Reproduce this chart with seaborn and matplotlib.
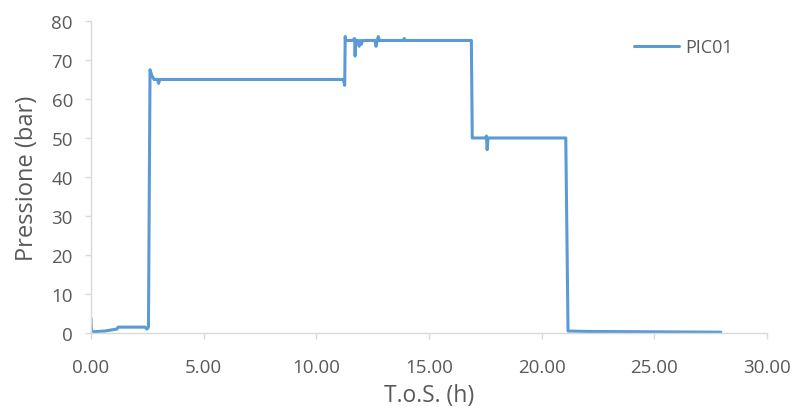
import matplotlib
matplotlib.use("Agg")
import matplotlib.pyplot as plt
import seaborn as sns
import pandas as pd

# Time on stream (h) and pressure (bar)
tos_h = [0.00, 0.02, 0.06, 0.60, 1.15, 1.20, 2.40, 2.48, 2.55, 2.62, 2.70, 2.80, 2.95, 3.00, 3.05,
         11.20, 11.26, 11.28, 11.30, 11.60, 11.70, 11.72, 11.75, 11.85, 11.90, 11.95, 12.00, 12.05,
         12.10, 12.60, 12.65, 12.70, 12.75, 12.80, 12.85, 13.85, 13.90, 13.95, 16.88, 16.92, 16.96,
         17.50, 17.55, 17.58, 17.62, 21.07, 21.17, 22.00, 25.00, 27.95]
pressure_bar = [3.8, 0.5, 0.3, 0.5, 1.0, 1.5, 1.5, 1.0, 1.5, 67.5, 66.0, 65.0, 65.0, 64.0, 65.0,
                65.0, 63.5, 76.0, 75.0, 75.0, 75.5, 71.0, 75.0, 75.0, 73.5, 75.0, 74.0, 75.0,
                75.0, 75.0, 73.5, 75.0, 76.0, 75.0, 75.0, 75.0, 75.5, 75.0, 75.0, 50.0, 50.0,
                50.0, 50.5, 47.0, 50.0, 50.0, 0.5, 0.4, 0.3, 0.2]
series_name = "PIC01"
x_ticks = [0, 5, 10, 15, 20, 25, 30]
y_ticks = [0, 10, 20, 30, 40, 50, 60, 70, 80]

df = pd.DataFrame({"T.o.S. (h)": tos_h, "Pressione (bar)": pressure_bar, "serie": series_name})

sns.set_style("white")
plt.rcParams["font.family"] = ["Open Sans", "DejaVu Sans"]

fig = plt.figure(figsize=(7.94, 4.10), dpi=100)
ax = fig.add_axes([0.1146, 0.1854, 0.8514, 0.7610])

sns.lineplot(data=df, x="T.o.S. (h)", y="Pressione (bar)", hue="serie",
             palette=["#5B9BD5"], linewidth=2.2, ax=ax, sort=False, estimator=None)

ax.set_xlim(0, 30)
ax.set_ylim(0, 80)
ax.set_xticks(x_ticks)
ax.set_xticklabels([f"{v:.2f}" for v in x_ticks])
ax.set_yticks(y_ticks)
ax.set_yticklabels([str(v) for v in y_ticks])

grey = "#595959"
for s in ["top", "right"]:
    ax.spines[s].set_visible(False)
for s in ["left", "bottom"]:
    ax.spines[s].set_color("#D9D9D9")
    ax.spines[s].set_linewidth(1.0)
ax.tick_params(axis="both", colors="#D9D9D9", labelcolor=grey, labelsize=13.5,
               length=4, width=1, direction="out", bottom=True, left=True)
ax.tick_params(axis="x", pad=14)
ax.tick_params(axis="y", pad=9)

ax.set_xlabel("T.o.S. (h)", fontsize=16.5, color=grey, labelpad=5)
ax.set_ylabel("Pressione (bar)", fontsize=17, color=grey, labelpad=9)

leg = ax.legend(loc="upper right", bbox_to_anchor=(0.973, 0.998), frameon=False,
                fontsize=13, handlelength=2.5, handletextpad=0.3)
for t in leg.get_texts():
    t.set_color(grey)

fig.savefig("out.png", dpi=100)
